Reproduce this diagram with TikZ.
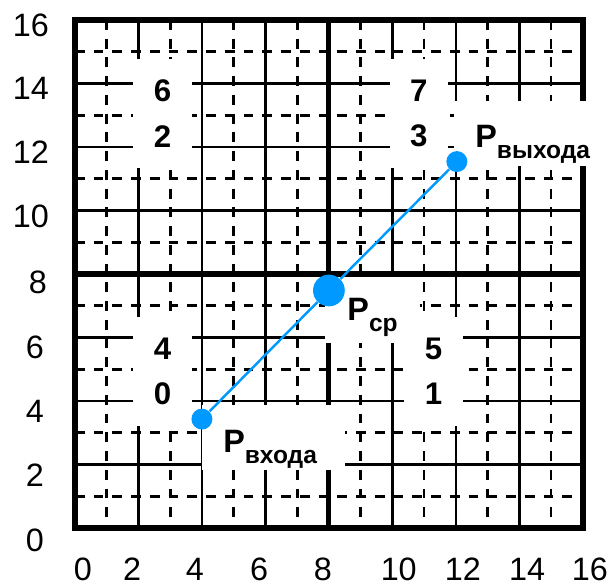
\documentclass[tikz,border=0pt]{standalone}
\usepackage{fontspec}
\setmainfont{Liberation Sans}

\definecolor{ptblue}{RGB}{0,153,255}
\newcommand{\pname}[1]{P\raisebox{-5pt}{\fontsize{11}{11}\selectfont\bfseries #1}}

\begin{document}
\begin{tikzpicture}[x=0.5cm, y=0.5cm,
    fine/.style={line width=1.2pt, dash pattern=on 4.4pt off 4pt},
    major/.style={line width=1.2pt},
    heavy/.style={line width=2.3pt},
    numbox/.style={fill=white, inner sep=0pt, minimum width=0.92cm, minimum height=1.725cm,
      align=center, font=\fontsize{14}{20.4}\selectfont\bfseries},
    plabel/.style={fill=white, inner ysep=0pt, anchor=south west, align=left,
      font=\fontsize{14.5}{17}\selectfont\bfseries},
    axlabel/.style={inner sep=0pt, font=\fontsize{14.5}{17}\selectfont},
    ptdot/.style={circle, fill=ptblue, inner sep=0pt, minimum size=0.33cm},
    ptline/.style={ptblue, line width=1.1pt}]
      \useasboundingbox (-2.36,-1.8) rectangle (16.98,16.63);

      \foreach \i in {1,3,...,15} {
        \draw[fine] (\i,16) -- (\i,0);
        \draw[fine] (0,\i) -- (16,\i);
      }
      \foreach \i in {2,4,6,10,12,14} {
        \draw[major] (\i,0) -- (\i,16);
        \draw[major] (0,\i) -- (16,\i);
      }
      \draw[heavy] (8,0) -- (8,16) (0,8) -- (16,8);
      \draw[line width=3pt] (0,0) rectangle (16,16);

      \node[numbox] (q62) at (2.76,13.06) {6\\2};
      \node[numbox] (q73) at (10.83,13.06) {7\\3};
      \node[numbox] (q40) at (2.76,4.93) {4\\0};
      \node[numbox] (q51) at (11.3,4.93) {5\\1};

      \node[plabel, inner xsep=0.33cm, text width=1.59cm, text height=0.755cm, text depth=0.28cm] (lin) at (4,1.8) {\pname{входа}};
      \node[plabel, inner xsep=0.35cm, text width=0.8cm, text height=0.685cm, text depth=0.355cm] (lcp) at (7.87,5.8) {\pname{ср}};
      \node[plabel, inner xsep=0.34cm, text width=1.8cm, text height=0.745cm, text depth=0.29cm] (lout) at (11.92,11.38) {\pname{выхода}};

      \node[ptdot] (pin) at (4,3.43) {};
      \node[ptdot, minimum size=0.5cm] (pcp) at (8,7.48) {};
      \node[ptdot] (pout) at (12.03,11.54) {};
      \draw[ptline] (pin) -- (pcp) -- (pout);

      \foreach \v/\x in {0/0.25, 2/1.8, 4/3.78, 6/5.8, 8/7.81, 10/10.2, 12/12.22, 14/14.24, 16/16.22}
        \node[axlabel] (xl\v) at (\x,-1.3) {\v};
      \foreach \v/\x/\y in {0/-1.26/-0.39, 2/-1.26/1.66, 4/-1.26/3.66, 6/-1.26/5.68, 8/-1.17/7.74,
          10/-1.39/9.83, 12/-1.39/11.85, 14/-1.39/13.85, 16/-1.39/15.84}
        \node[axlabel] (yl\v) at (\x,\y) {\v};
    \end{tikzpicture}
\end{document}
